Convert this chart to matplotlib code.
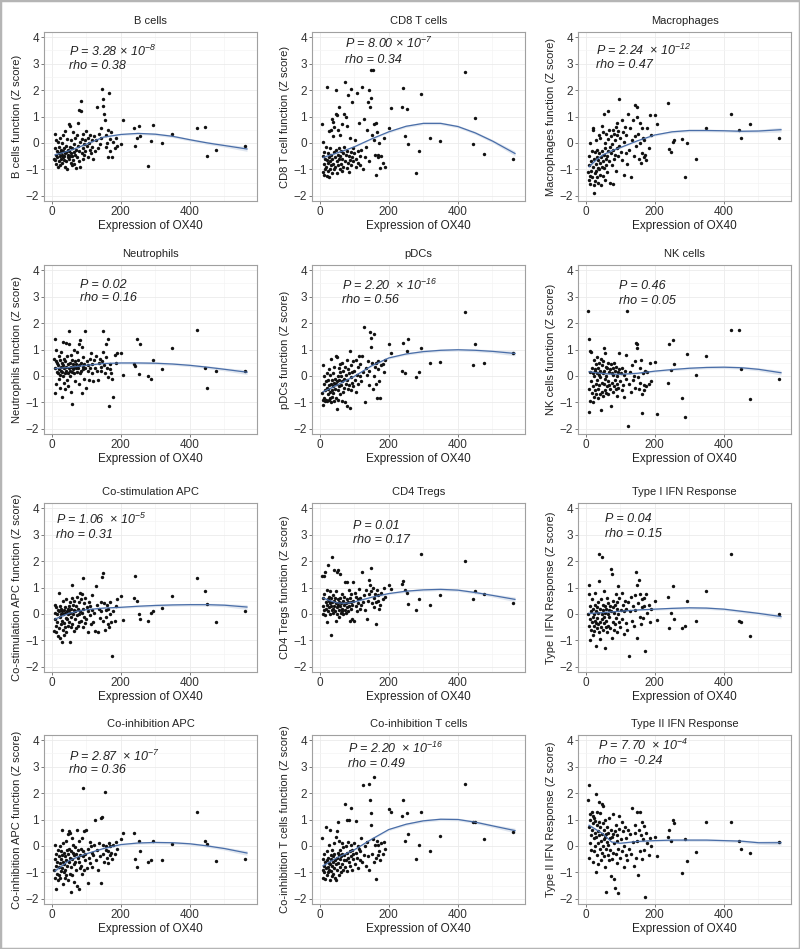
import matplotlib
matplotlib.use("Agg")
import matplotlib.pyplot as plt
from matplotlib.patches import Rectangle
import numpy as np

plt.rcParams['font.family'] = ['Liberation Sans', 'DejaVu Sans']
plt.rcParams['mathtext.fontset'] = 'custom'
plt.rcParams['mathtext.rm'] = 'Liberation Sans:italic'
plt.rcParams['mathtext.it'] = 'Liberation Sans:italic'
plt.rcParams['mathtext.bf'] = 'Liberation Sans:italic'

# ---------------- data ----------------
# Expression of OX40 (shared by all panels: same samples)
X_CLUSTER = [8, 9, 10, 11, 12, 13, 14, 15, 16, 18,
             19, 20, 21, 22, 23, 24, 25, 26, 27, 28,
             29, 30, 31, 32, 33, 34, 35, 36, 37, 38,
             39, 40, 41, 42, 43, 44, 45, 46, 47, 48,
             49, 50, 51, 52, 53, 54, 55, 56, 57, 58,
             59, 60, 62, 63, 64, 65, 66, 67, 68, 70,
             71, 72, 74, 75, 76, 78, 79, 80, 82, 83,
             84, 86, 87, 88, 90, 91, 92, 94, 95, 96,
             98, 100, 102, 104, 106, 108, 110, 112, 114, 116,
             118, 120, 122, 125, 128, 130, 133, 136, 139, 142,
             144, 146, 148, 150, 152, 154, 156, 158, 160, 163,
             164, 166, 168, 170, 172, 175, 178, 182, 186, 190]
X_OUTLIERS = [200, 206, 238, 242, 246, 252, 256, 280, 286, 294, 318, 347, 420, 444, 448, 474, 560]
OX40 = X_CLUSTER + X_OUTLIERS

B_CELLS = [-0.6, 0.35, -0.2, -0.65, 0.1, -0.45, -0.8, -0.3, -0.55, 0.05,
           -0.9, -0.4, -0.7, -0.15, -0.5, 0.2, -0.85, -0.35, -0.6, -0.25,
           -0.45, -0.75, 0.0, -0.55, -0.3, 0.3, -0.65, -0.2, -0.5, -0.9,
           0.45, -0.4, -0.1, -0.7, -0.35, 0.15, -1.0, -0.55, -0.25, -0.45,
           0.7, -0.6, -0.3, 0.65, -0.5, -0.15, -0.75, 0.1, -0.4, -0.85,
           -0.2, -0.5, 0.4, -0.65, -0.05, -0.35, -0.8, 0.2, -0.45, -0.95,
           -0.25, 0.3, -0.55, -0.1, 0.75, -0.7, 1.25, -0.3, 0.05, -0.9,
           1.2, 1.6, -0.4, 0.15, -0.2, -0.6, 0.35, -0.05, -0.45, 0.1,
           -0.3, 0.45, -0.1, 0.2, -0.55, 0.0, -0.25, 0.3, -0.4, 0.1,
           -0.15, -0.6, 0.25, -0.3, 0.1, 1.35, -0.2, 0.35, -0.05, 0.2,
           0.55, 2.05, 1.65, 1.4, 1.1, 0.85, -0.15, 0.3, 0.0, 0.5,
           -0.55, 1.9, 0.15, -0.3, 0.4, -0.55, 0.05, -0.2, 0.2, -0.1,
           -0.05, 0.88, 0.55, -0.1, 0.18, 0.63, 0.25, -0.86, 0.09, 0.68, 0.0, 0.34, 0.57, 0.59, -0.48, -0.25, -0.1]

CD8_T = [0.7, -1.1, -0.5, 0.05, -1.2, -0.8, -0.35, -1.0, -0.6, -0.15,
         -0.9, 2.1, -0.65, -1.25, -0.4, -0.75, -1.05, 0.45, -0.55, -1.3,
         -0.7, -0.2, -1.0, 0.5, -0.85, -0.45, 0.9, -1.15, -0.6, 0.25,
         -0.8, 0.8, -0.35, -1.0, 0.6, -0.55, -0.9, 1.1, -0.25, 2.0,
         -0.7, 1.05, -1.15, -0.45, 0.5, -0.85, 1.35, -0.6, -0.2, -1.0,
         -0.5, 0.3, -0.8, -0.3, -1.05, -0.6, 0.7, -0.4, -0.9, -0.15,
         1.1, -0.7, 2.3, 1.0, -0.45, -0.95, 0.65, -0.3, 1.8, -0.75,
         -0.5, -1.1, 0.2, -0.65, 2.05, -0.35, -0.85, 1.55, -0.55, -0.2,
         -0.7, -0.4, 0.1, -0.9, -0.6, 1.9, -0.3, -0.75, 0.75, -0.5,
         -0.85, -0.25, 2.1, -1.0, 0.9, -0.55, -0.15, 0.5, 1.55, -0.7,
         2.0, 1.35, 2.75, 1.7, 0.3, 2.75, 0.7, 0.1, -0.45, 0.75,
         -1.2, 0.4, -0.55, -0.45, 0.0, -0.95, -0.5, -0.75, 0.2, -0.9,
         0.55, 1.33, 1.35, 2.07, 0.25, 1.3, -0.06, -1.14, -0.32, 1.84, 0.2, 0.06, 2.7, -0.05, 0.93, -0.43, -0.6]

MACROPHAGES = [-1.1, -0.5, -1.4, -0.85, -1.25, 0.0, -1.55, -0.7, -1.05, -0.3,
               -1.3, 0.55, -0.9, 0.5, -1.6, -1.9, -0.6, -1.15, -0.35, -1.45,
               -0.8, -1.05, 0.1, -0.55, -1.3, -0.25, -0.95, -1.5, -0.65, 0.3,
               -1.0, -0.4, -0.75, -1.2, 0.2, -0.55, -1.6, -0.9, 0.65, -0.3,
               -0.7, -1.25, 0.4, -0.45, 1.1, -0.95, -0.2, -1.4, 0.0, -0.6,
               -0.85, 0.35, -0.5, -1.1, 0.15, -0.3, 1.2, -0.7, 0.5, -0.15,
               -1.5, -0.4, 0.25, -0.85, -0.05, 0.5, -1.55, -0.25, 0.35, -0.6,
               0.1, -0.45, 0.6, -1.05, 0.3, -0.2, 0.75, -0.5, 0.45, -0.1,
               1.65, 0.2, -0.35, 0.85, -0.65, 0.4, -1.2, 0.05, 0.6, -0.4,
               0.3, -0.8, 1.1, -0.25, 0.55, -1.3, 0.1, 0.85, -0.5, 0.25,
               1.45, -0.1, 1.0, 1.35, 0.35, -0.6, 0.75, 0.0, -0.75, 0.55,
               -0.4, 0.2, -0.55, 0.1, -0.45, -0.65, 0.55, -0.2, 1.05, 0.3,
               1.05, 0.7, 1.52, -0.22, -0.35, 0.05, 0.1, 0.15, -1.3, -0.02, -0.6, 0.55, 1.1, 0.48, 0.2, 0.72, 0.2]

NEUTROPHILS = [0.65, -0.65, 1.4, 0.3, 0.55, 1.0, -0.3, 0.15, 0.5, 0.1,
               0.4, -0.1, 0.75, 0.25, 0.6, -0.45, 0.05, 0.9, 0.35, 0.2,
               -0.8, 0.5, 0.15, 1.3, 0.0, 0.4, -0.25, 0.65, 0.3, 0.1,
               0.55, -0.5, 0.2, 1.25, 0.35, -0.15, 0.75, 0.1, 0.45, -0.4,
               1.2, 0.3, 1.7, 0.0, 0.5, 0.2, -0.6, 0.8, 0.35, 0.15,
               0.6, -1.05, 0.25, 0.45, 0.1, 1.0, 0.35, -0.2, 0.55, 0.3,
               0.45, 0.15, 0.9, 0.3, 0.6, -0.3, 1.2, 0.4, 0.1, 1.35,
               0.5, 0.2, 1.1, -0.65, 0.35, 0.7, 0.25, -0.1, 0.45, 0.3,
               1.7, -0.45, 0.55, 0.2, 0.4, -0.15, 0.65, 0.3, 0.85, 0.1,
               0.45, -0.2, 0.6, 0.3, 0.75, 0.2, -0.15, 0.5, 0.65, 0.35,
               0.2, 0.55, 1.7, 0.9, 0.4, 0.1, 0.7, 1.2, 0.3, -0.05,
               1.4, -1.15, 0.45, 0.25, 0.1, -0.1, -0.8, 0.8, 0.5, 0.85,
               0.85, 0.02, 0.45, 0.38, 1.38, 0.06, 1.2, -0.01, -0.1, 0.6, 0.25, 1.05, 1.72, 0.3, -0.45, 0.2, 0.18]

PDCS = [-0.65, 0.4, -0.9, -1.1, -0.3, -0.85, 0.0, -0.95, -0.55, -0.2,
        -0.9, -0.45, 0.1, -0.95, -0.7, -0.15, -0.5, -0.9, 0.25, -0.35,
        -0.6, -0.85, 0.05, -0.3, -1.0, 0.65, -0.55, -0.15, -0.8, -0.4,
        0.1, -0.65, -0.25, -0.95, 0.35, -0.5, -0.1, -0.85, 0.75, -0.3,
        -1.25, -0.2, 0.7, -0.55, 0.0, -0.9, 0.3, -0.4, -0.15, 0.45,
        -0.7, 0.15, -0.35, 0.0, -0.95, 0.5, -0.2, -0.6, 0.2, -0.1,
        -0.45, 0.35, -1.0, 0.05, -0.3, 0.6, -1.15, -0.15, 0.25, -0.5,
        0.1, -0.35, 0.95, -1.2, -0.05, 0.4, -0.55, 0.15, -0.25, 0.55,
        -0.4, 0.2, -0.15, 0.6, -0.6, 0.05, 0.35, -0.3, 0.75, 0.0,
        0.45, -0.2, 0.75, 0.15, 1.85, -1.0, 0.3, 0.05, 0.55, -0.35,
        0.2, 1.65, 1.45, 1.1, 0.5, -0.5, 1.6, 0.0, 0.35, -0.3,
        0.5, -0.85, 0.25, 0.55, -0.2, -0.85, 0.4, 0.45, 0.15, 0.6,
        1.22, 0.85, 0.2, 1.25, 0.12, 0.95, 1.4, -0.05, 0.15, 1.05, 0.5, 0.52, 2.42, 0.42, 1.2, 0.5, 0.85]

NK_CELLS = [2.45, -1.35, 1.4, -0.5, 0.95, -0.95, 0.15, 0.9, -0.2, -0.65,
            0.3, -1.0, 0.1, -0.4, 0.6, -0.8, 0.0, 0.25, -0.55, 0.2,
            -0.3, 0.45, -0.7, 0.1, -0.15, 0.7, -0.5, 0.3, -0.85, 0.05,
            0.5, -0.35, -0.7, 0.2, -0.05, 0.65, -1.3, -0.25, 0.4, -0.6,
            0.1, -0.75, 0.55, 1.05, -0.3, 0.2, -0.55, 0.85, -0.1, 0.35,
            -0.65, 0.0, 0.3, -0.4, 0.5, -0.2, -0.7, 0.15, -0.35, 0.25,
            -0.5, 0.45, -1.15, 0.1, -0.25, 0.3, -0.6, 0.05, -0.4, 0.5,
            -0.15, 0.2, -0.5, 0.35, -0.3, 0.0, -0.75, 0.15, -0.45, 0.25,
            0.85, -0.2, 0.1, -0.55, 0.3, -0.35, 0.05, -0.8, 0.2, -0.1,
            0.8, 2.45, -1.9, -0.3, 0.15, -0.6, 0.4, -0.15, 0.0, -0.45,
            0.55, 1.25, 1.2, 1.05, -0.05, -0.5, 0.3, -0.25, 0.6, -0.7,
            -1.4, 0.1, -0.35, -0.55, 0.2, -0.4, 0.15, -0.3, 0.5, -0.2,
            0.52, -1.45, -0.25, 1.22, 0.22, 1.35, 0.45, -0.85, -1.55, 0.82, 0.05, 0.75, 1.75, 1.72, 0.27, -0.88, -0.1]

CO_STIM_APC = [-0.65, 0.35, -0.2, 0.05, -0.7, 0.25, -0.45, 0.0, -0.3, 0.15,
               -0.85, 0.1, 0.8, -0.55, -0.1, 0.3, -0.9, 0.0, -0.4, 0.2,
               -1.05, -0.25, 0.1, 0.5, -0.6, 0.0, -0.35, 0.15, -0.8, 0.05,
               0.25, -0.5, -0.15, 0.55, -0.7, 0.1, -0.2, 0.2, -0.45, 0.0,
               0.15, -0.3, 0.3, -1.05, 0.05, 0.45, -0.5, 0.2, -0.1, 0.6,
               1.1, -0.4, 0.0, 0.35, -0.65, 0.15, 0.5, -0.2, 0.1, -0.55,
               0.3, -0.05, 0.65, -0.45, 0.2, 0.0, 0.45, -0.3, 0.8, 0.1,
               -0.25, 0.55, 0.05, 0.75, -0.5, 1.35, 0.2, -0.1, 0.4, -0.35,
               0.6, -0.2, 0.25, -0.7, 0.1, 0.45, -0.05, 0.3, -0.4, 0.15,
               0.7, -0.3, 0.05, -0.65, 1.05, 0.35, -0.7, 0.2, -0.15, 0.45,
               0.1, 1.4, -0.25, 1.55, 0.4, -0.6, 0.15, -0.1, 0.35, -0.4,
               0.2, -0.5, 0.0, 0.45, -0.3, -1.6, 0.1, -0.25, 0.3, 0.55,
               0.68, -0.22, 0.6, 1.45, 0.5, 0.0, -0.18, -0.28, 0.05, 0.12, 0.22, 0.68, 1.35, 0.88, 0.38, -0.32, 0.12]

CD4_TREGS = [1.45, 0.0, 0.6, 0.3, 1.45, 0.15, 0.75, -0.05, 1.6, 0.45,
             0.2, -0.3, 0.9, 0.35, 0.55, 0.1, 1.85, 0.65, 0.25, 0.5,
             0.0, 0.4, 0.85, -0.8, 0.3, 0.6, 0.15, 0.45, 2.15, 0.2,
             0.7, 0.05, 0.5, 1.65, 0.3, 0.1, 0.6, -0.25, 0.4, 0.85,
             0.25, 1.6, 0.0, 0.55, 0.35, 1.65, 0.15, 0.45, -0.1, 1.5,
             0.3, 0.6, 0.05, 0.4, 0.2, 0.75, 0.1, 0.5, 0.0, 0.35,
             0.65, 0.15, 1.2, 0.4, 0.05, 0.55, 0.25, 1.2, 0.1, 0.45,
             0.3, 0.9, -0.25, 0.6, 0.2, 0.45, 0.75, -0.2, 0.35, 1.2,
             0.5, -0.25, 0.8, 0.3, 0.65, 0.1, 0.55, 0.4, 0.95, 0.2,
             0.6, 0.35, 1.6, 0.45, 0.7, 0.15, 0.9, -0.2, 0.5, 0.75,
             1.3, 1.1, 1.75, 0.85, 0.4, 1.0, 0.6, 0.25, 0.75, 0.45,
             -0.4, 0.9, 0.5, 0.7, 0.2, 0.35, 0.8, 0.55, 1.0, 0.65,
             1.1, 0.95, 1.15, 1.25, 0.9, 0.78, 0.38, 0.15, 0.57, 2.28, 0.35, 0.7, 2.0, 0.57, 0.85, 0.75, 0.42]

TYPE_I_IFN = [0.0, 1.1, -0.45, 0.75, -0.2, -1.0, 0.3, -0.6, 0.1, -0.3,
              0.55, -0.8, -0.1, 0.2, -0.45, 0.0, -0.65, 0.35, -0.25, 0.8,
              -1.2, -0.35, 0.1, -0.55, 0.25, -0.15, 0.45, -0.4, 0.05, -0.7,
              1.25, 2.25, -0.95, 0.2, -0.3, 0.55, -0.5, 0.0, 2.15, -0.2,
              0.15, -0.6, 0.35, -0.1, 0.85, -0.35, 0.05, -1.3, 0.3, -0.5,
              0.2, -0.25, 0.6, -0.7, 0.0, 0.4, -0.45, 0.15, -0.1, 0.3,
              -0.55, 0.1, 1.7, 1.5, -0.9, 0.25, -0.3, 0.5, -0.6, 0.05,
              0.35, -0.4, 0.75, -0.15, 0.2, -0.7, 0.45, 0.0, 1.05, -0.3,
              0.6, -0.5, 0.15, 0.8, -0.2, 0.35, -0.75, 0.1, 0.5, -0.35,
              0.2, -0.6, 0.45, -1.6, 0.1, 0.65, -0.25, 0.3, -0.45, 0.15,
              0.7, 1.6, 1.1, -0.9, 0.4, 1.3, -0.1, 0.75, -0.4, 0.25,
              0.55, -0.15, 0.3, 0.6, -1.4, 0.75, 0.05, 0.35, -0.3, 0.2,
              0.5, -0.22, 0.65, -0.55, 0.05, 1.05, -0.2, -0.55, -0.45, 0.5, -0.25, 0.85, 2.25, -0.25, -0.3, -0.82, 0.0]

CO_INH_APC = [-0.9, 0.05, -1.2, -0.5, -1.65, -0.75, -0.3, -1.05, -0.6, -0.15,
              -1.3, -0.8, -0.4, -1.1, 0.0, -0.65, -1.2, -0.2, -0.95, -0.5,
              0.6, -0.85, -0.35, -1.45, -0.6, 0.1, -1.0, -0.25, -0.7, -1.2,
              -0.4, -0.9, 0.2, -0.55, -1.1, -0.15, -0.75, 0.45, -0.3, -1.3,
              0.55, -0.6, -0.1, 0.5, -1.05, -0.45, -1.75, -0.2, -0.8, 0.3,
              -0.5, -1.1, -0.25, 0.05, -0.7, -0.35, -1.35, -0.05, -0.6, -0.9,
              -0.3, -1.5, 0.6, -0.45, -0.15, -1.65, -0.6, 0.2, -0.85, -0.35,
              -0.1, -0.75, 0.3, -1.05, 2.2, -0.4, -0.2, -0.9, 0.55, -0.55,
              -0.3, 0.6, -0.85, -0.1, -1.4, -0.45, 0.15, -0.65, 0.0, -0.25,
              -0.8, -0.35, 0.05, 1.0, -0.55, -0.15, -0.9, 0.1, -0.4, -1.4,
              1.05, 1.1, -0.3, 0.05, -0.6, 2.05, -0.15, 0.0, -0.45, -0.2,
              -0.65, 0.1, -0.35, 0.0, -0.25, -0.5, 0.05, -0.3, 0.15, -0.1,
              0.25, 0.5, 0.5, -0.5, -0.78, 0.2, -0.2, -0.6, -0.55, 0.2, -0.55, 0.08, 1.28, 0.2, 0.08, -0.56, -0.5]

CO_INH_T = [0.3, -0.9, -1.2, -0.5, -0.75, -1.0, -0.3, -1.25, -0.6, -0.85,
            0.7, -0.55, -1.1, -0.2, -0.8, -0.45, -1.0, -0.65, 0.05, -0.9,
            -0.7, -1.3, 0.6, -0.35, -0.95, -0.5, -1.15, -0.15, -0.75, -0.4,
            -1.05, -0.6, 0.1, -0.85, -0.3, -1.2, -0.55, 0.35, -0.7, -1.3,
            0.55, -0.45, -0.9, 0.9, -0.25, -0.65, -1.1, -0.35, 0.2, -0.8,
            -0.5, -0.15, -1.0, -0.4, 0.1, -0.7, -0.3, -0.9, -0.05, -0.55,
            -0.35, -0.8, 1.6, 0.0, -0.55, 1.0, -0.25, -0.95, -0.45, 0.15,
            -0.6, 1.0, -0.2, -0.75, 1.45, -0.4, 0.05, -0.9, -0.15, -0.5,
            -0.3, 0.1, -0.7, -0.25, 0.95, -0.45, 0.0, -0.85, -0.1, -0.55,
            -0.2, 0.3, -0.6, 2.3, -0.35, 0.0, -0.75, 0.15, -0.4, -0.9,
            2.35, 1.75, 1.25, 0.8, -0.3, 0.25, -0.6, 2.6, 0.05, -0.45,
            -1.25, 0.2, -0.35, 0.05, -0.2, -0.55, 0.1, -0.3, 0.15, -0.1,
            1.4, 1.27, 1.15, 1.75, 0.2, 1.25, 0.45, -0.48, 0.05, 1.28, -0.2, 0.38, 2.33, 0.92, 0.9, 0.25, 0.52]

TYPE_II_IFN = [1.75, -0.45, 2.3, 0.7, 1.2, 0.1, 1.0, 0.4, -0.15, 1.3,
               0.6, 1.15, -0.6, 0.85, 0.3, 1.05, -0.2, 0.5, 0.95, 0.0,
               1.95, -1.0, 0.35, 0.8, -0.35, 1.3, 0.55, 0.1, -0.7, 0.9,
               0.4, 1.65, -0.1, 0.7, 1.25, 0.2, -0.55, 1.6, 0.45, -0.25,
               0.85, 0.0, 1.5, -0.4, 0.6, 0.25, -0.8, 1.0, 0.35, -0.1,
               0.45, -1.75, 0.15, 0.7, -0.35, 0.5, 0.05, 1.05, -0.55, 0.3,
               -0.15, 0.6, -1.15, 0.35, -0.5, 1.2, -0.25, 0.45, -1.25, 0.1,
               0.55, -1.6, -0.3, 0.8, 0.2, -0.65, 0.4, -1.8, -0.1, 0.65,
               1.15, -0.45, 0.25, 0.9, -0.2, 0.55, -0.8, 0.0, 0.7, -0.35,
               0.3, -0.55, 0.6, -0.1, 0.45, -0.3, 1.45, 0.15, -0.75, 0.5,
               0.8, -0.45, 0.2, 1.3, -1.1, 0.6, 1.3, -0.2, 0.4, 0.9,
               -0.5, 0.25, 0.75, -0.15, -1.95, 0.5, 0.1, -0.35, 0.3, 0.0,
               0.35, -0.38, 0.32, 0.6, 0.17, 0.97, 0.88, -1.03, 0.27, -0.56, -0.22, 0.9, 0.92, 0.17, -0.12, -0.27, 0.14]

# loess fits
FIT_X = [10, 30, 50, 75, 100, 150, 200, 250, 300, 350, 400, 450, 500, 565]
FIT_B = [-0.45, -0.38, -0.3, -0.18, -0.05, 0.22, 0.32, 0.36, 0.33, 0.25, 0.12, 0.0, -0.1, -0.23]
FIT_CD8 = [-0.55, -0.47, -0.38, -0.27, -0.15, 0.15, 0.42, 0.63, 0.74, 0.74, 0.62, 0.38, 0.07, -0.4]
FIT_MAC = [-0.9, -0.65, -0.45, -0.3, -0.18, 0.08, 0.3, 0.42, 0.47, 0.47, 0.46, 0.44, 0.45, 0.5]
FIT_NEU = [0.28, 0.3, 0.32, 0.36, 0.4, 0.47, 0.49, 0.49, 0.48, 0.45, 0.4, 0.33, 0.25, 0.14]
FIT_PDC = [-0.6, -0.48, -0.35, -0.18, -0.02, 0.38, 0.68, 0.83, 0.92, 0.97, 0.99, 0.97, 0.93, 0.85]
FIT_NK = [0.16, 0.12, 0.09, 0.07, 0.06, 0.1, 0.18, 0.24, 0.29, 0.32, 0.33, 0.31, 0.25, 0.12]
FIT_COS = [-0.2, -0.08, 0.02, 0.1, 0.16, 0.22, 0.25, 0.29, 0.32, 0.34, 0.35, 0.35, 0.33, 0.26]
FIT_TREG = [0.6, 0.5, 0.42, 0.4, 0.45, 0.63, 0.77, 0.86, 0.91, 0.93, 0.9, 0.81, 0.7, 0.55]
FIT_T1 = [0.02, 0.03, 0.05, 0.08, 0.1, 0.15, 0.18, 0.21, 0.23, 0.22, 0.18, 0.1, 0.02, -0.1]
FIT_CIA = [-0.95, -0.75, -0.56, -0.42, -0.3, -0.1, 0.05, 0.11, 0.13, 0.12, 0.08, 0.0, -0.1, -0.27]
FIT_CIT = [-0.75, -0.6, -0.45, -0.3, -0.15, 0.25, 0.62, 0.82, 0.95, 1.01, 1.0, 0.9, 0.76, 0.58]
FIT_T2 = [0.78, 0.62, 0.46, 0.15, 0.1, 0.17, 0.2, 0.22, 0.22, 0.22, 0.2, 0.18, 0.12, 0.12]
FIT_SE = [0.06, 0.035, 0.025, 0.025, 0.025, 0.03, 0.04, 0.045, 0.05, 0.05, 0.05, 0.055, 0.06, 0.09]

TITLES = ["B cells", "CD8 T cells", "Macrophages",
          "Neutrophils", "pDCs", "NK cells",
          "Co-stimulation APC", "CD4 Tregs", "Type I IFN Response",
          "Co-inhibition APC", "Co-inhibition T cells", "Type II IFN Response"]
YLABELS = ["B cells function (Z score)", "CD8 T cell function (Z score)", "Macrophages function (Z score)",
           "Neutrophils function (Z score)", "pDCs function (Z score)", "NK cells function (Z score)",
           "Co-stimulation APC function (Z score)", "CD4 Tregs function (Z score)", "Type I IFN Response (Z score)",
           "Co-inhibition APC function (Z score)", "Co-inhibition T cells function (Z score)", "Type II IFN Response (Z score)"]
P_TEXTS = [r"P = 3.28 × 10$^{-8}$", r"P = 8.00 × 10$^{-7}$", r"P = 2.24  × 10$^{-12}$",
           "P = 0.02", r"P = 2.20  × 10$^{-16}$", "P = 0.46",
           r"P = 1.06  × 10$^{-5}$", "P = 0.01", "P = 0.04",
           r"P = 2.87  × 10$^{-7}$", r"P = 2.20  × 10$^{-16}$", r"P = 7.70  × 10$^{-4}$"]
RHO_TEXTS = ["rho = 0.38", "rho = 0.34", "rho = 0.47",
             "rho = 0.16", "rho = 0.56", "rho = 0.05",
             "rho = 0.31", "rho = 0.17", "rho = 0.15",
             "rho = 0.36", "rho = 0.49", "rho =  -0.24"]

Y_SERIES = [B_CELLS, CD8_T, MACROPHAGES, NEUTROPHILS, PDCS, NK_CELLS,
            CO_STIM_APC, CD4_TREGS, TYPE_I_IFN, CO_INH_APC, CO_INH_T, TYPE_II_IFN]
FITS = [FIT_B, FIT_CD8, FIT_MAC, FIT_NEU, FIT_PDC, FIT_NK,
        FIT_COS, FIT_TREG, FIT_T1, FIT_CIA, FIT_CIT, FIT_T2]

# ---------------- layout ----------------
ANNOT_POS = [(51, 3.47, 2.9), (73, 3.75, 3.13), (31, 3.52, 2.94),
             (82, 3.46, 2.95), (65, 3.43, 2.87), (96, 3.39, 2.83),
             (14, 3.56, 3.0), (96, 3.32, 2.78), (56, 3.58, 3.04),
             (51, 3.38, 2.88), (82, 3.7, 3.1), (37, 3.79, 3.23)]

W, H = 800, 949
LEFTS = [44, 312, 578]
TOPS = [32, 265, 503, 735]
AW, AH = 213, 169

fig = plt.figure(figsize=(8.0, 9.49), dpi=100)
fig.patch.set_facecolor('white')

xarr = np.array(OX40, dtype=float)
fx = np.array(FIT_X, dtype=float)
se = np.array(FIT_SE)

for i in range(12):
    r, c = divmod(i, 3)
    ax = fig.add_axes([LEFTS[c] / W, 1 - (TOPS[r] + AH) / H, AW / W, AH / H])
    y = np.array(Y_SERIES[i], dtype=float)
    assert len(y) == len(xarr), (i, len(y))
    fit = np.array(FITS[i])
    ax.set_xlim(-22, 594)
    ax.set_ylim(-2.2, 4.2)
    ax.set_xticks([0, 200, 400])
    ax.set_yticks(range(-2, 5))
    ax.set_xticks([100, 300, 500], minor=True)
    ax.set_yticks(np.arange(-1.5, 4.0, 1.0), minor=True)
    ax.grid(which='major', color='#ebebeb', lw=0.6)
    ax.grid(which='minor', color='#f4f4f4', lw=0.5)
    ax.set_axisbelow(True)
    ax.tick_params(which='minor', length=0)
    ax.tick_params(which='major', length=2, width=0.6, color='#666666',
                   labelsize=8.5, labelcolor='#333333', pad=1.5)
    for sp in ax.spines.values():
        sp.set_color('#a0a0a0')
        sp.set_linewidth(0.8)

    ax.fill_between(fx, fit - se, fit + se, color='#dde4ee', alpha=0.9, lw=0, zorder=1)
    ax.scatter(xarr, y, s=6, c='#111111', linewidths=0, zorder=2)
    ax.plot(fx, fit, color='#4a6ea8', lw=0.9, zorder=3)

    ax.set_title(TITLES[i], fontsize=8, color='#222222', pad=6)
    ax.set_xlabel("Expression of OX40", fontsize=8.5, color='#222222')
    ax.set_ylabel(YLABELS[i], fontsize=8, color='#222222')
    ax.xaxis.set_label_coords(0.5, -0.11)
    ax.yaxis.set_label_coords(-0.105, 0.5)

    px, py1, py2 = ANNOT_POS[i]
    ax.text(px, py1, P_TEXTS[i], fontsize=9, style='italic', va='center', ha='left', color='#222222')
    ax.text(px, py2, RHO_TEXTS[i], fontsize=9, style='italic', va='center', ha='left', color='#222222')

fig.add_artist(Rectangle((0, 0), 1, 1, transform=fig.transFigure, fill=False,
                         edgecolor='#b5b5b5', lw=2.5))

fig.savefig("out.png", dpi=100)
